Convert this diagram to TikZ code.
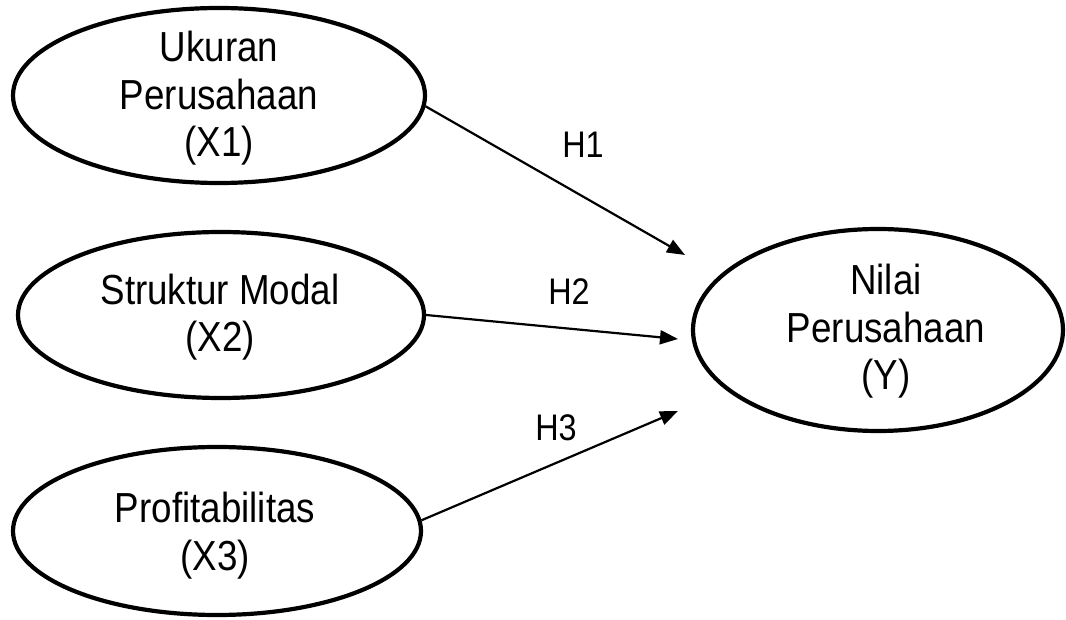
\documentclass[tikz,border=0pt]{standalone}
\usepackage{fontspec}
\setmainfont{Liberation Sans}
\newfontfamily\diagfont[FakeStretch=0.875]{Liberation Sans}
\usetikzlibrary{arrows.meta,shapes.geometric}
\begin{document}
\begin{tikzpicture}[x=1pt,y=1pt,
  var/.style={ellipse, draw, line width=4.2pt, inner sep=0pt},
  vtext/.style={font=\diagfont\fontsize{42}{47.5}\selectfont, align=center, inner sep=0pt, anchor=base},
  hyp/.style={font=\diagfont\fontsize{37}{40}\selectfont, inner sep=0pt},
  arr/.style={line width=2.2pt, -{Triangle[length=18pt,width=14pt]}}]
\useasboundingbox (0,0) rectangle (1066,619);
% variables
\node[var, minimum width=412pt, minimum height=175pt] (x1) at (219,523.5) {};
\node[var, minimum width=406pt, minimum height=166pt] (x2) at (221,304) {};
\node[var, minimum width=408pt, minimum height=168pt] (x3) at (217,88) {};
\node[var, minimum width=370pt, minimum height=202pt] (y) at (878,289) {};
% texts (anchor base = last line)
\node[vtext] (tx1) at (219,462) {Ukuran\\Perusahaan\\(X1)};
\node[vtext] (tx2) at (220,267) {Struktur Modal\\(X2)};
\node[vtext] (tx3) at (215,49) {Profitabilitas\\(X3)};
\node[vtext] (ty) at (886,229) {Nilai\\Perusahaan\\(Y)};
% arrow tips
\coordinate (h1end) at (685,364);
\coordinate (h2end) at (678,280);
\coordinate (h3end) at (678,208);
\draw[arr] (x1.-3) -- (h1end);
\draw[arr] (x2.east) -- (h2end);
\draw[arr] (x3.3) -- (h3end);
% labels
\node[hyp] (h1) at (583,474) {H1};
\node[hyp] (h2) at (569,327) {H2};
\node[hyp] (h3) at (556,191) {H3};
\end{tikzpicture}
\end{document}
